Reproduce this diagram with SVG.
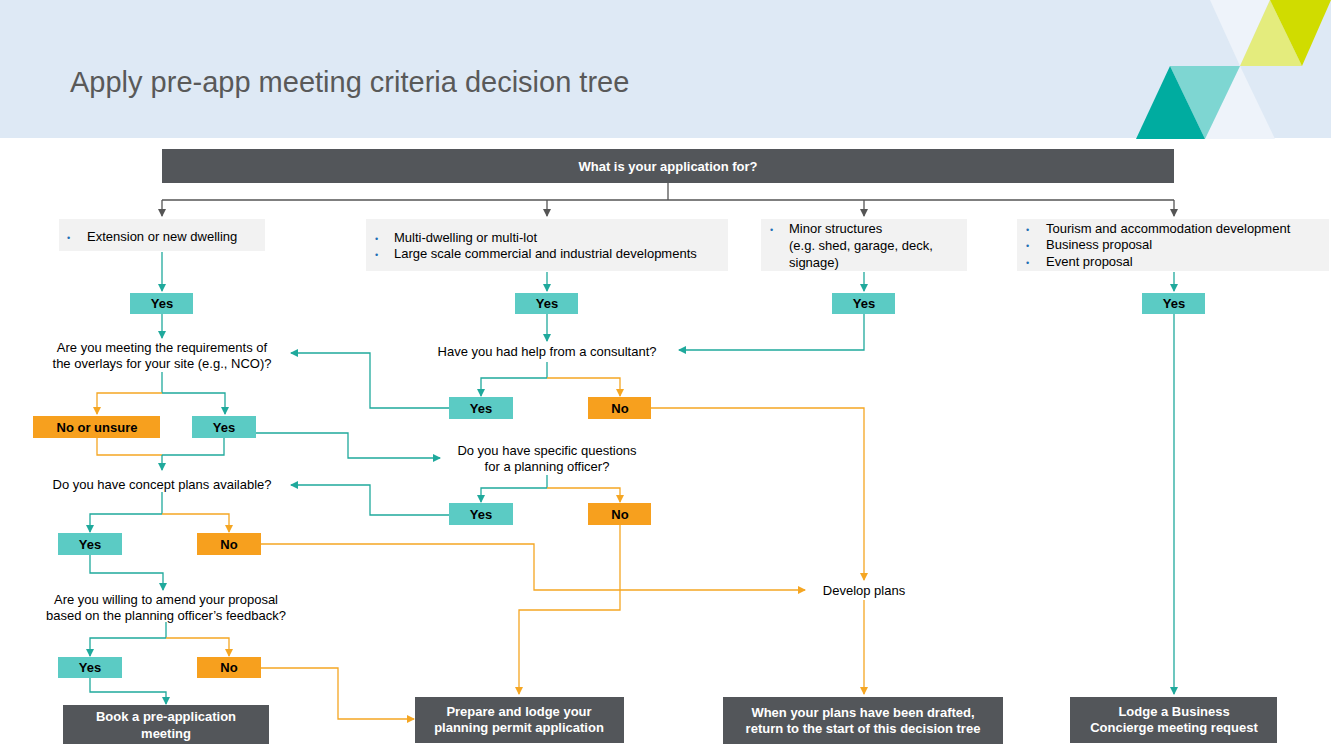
<svg xmlns="http://www.w3.org/2000/svg" width="1331" height="745" viewBox="0 0 1331 745">
<style>
text{font-family:"Liberation Sans",Arial,sans-serif;font-size:13px;fill:#000}
.b{font-weight:bold}
.w{fill:#fff;font-weight:bold}
.c{text-anchor:middle}
.dk{fill:#53565A}
.y{fill:#5BCBC4}
.o{fill:#F7A01E}
.g{fill:#F2F2F2}
.t{fill:none;stroke:#1FA99C;stroke-width:1.3}
.n{fill:none;stroke:#F5A623;stroke-width:1.3}
.k{fill:none;stroke:#555;stroke-width:1.3}
.bl{fill:#1F6FB5}
</style>
<defs>
<marker id="at" markerWidth="8" markerHeight="8" refX="7" refY="4" orient="auto" markerUnits="userSpaceOnUse"><path d="M0,0L8,4L0,8z" fill="#1FA99C"/></marker>
<marker id="ao" markerWidth="8" markerHeight="8" refX="7" refY="4" orient="auto" markerUnits="userSpaceOnUse"><path d="M0,0L8,4L0,8z" fill="#F5A623"/></marker>
<marker id="ak" markerWidth="8" markerHeight="8" refX="7" refY="4" orient="auto" markerUnits="userSpaceOnUse"><path d="M0,0L8,4L0,8z" fill="#555"/></marker>
</defs>
<rect width="1331" height="745" fill="#fff"/>
<g id="header">
<rect width="1331" height="138" fill="#DEE9F5"/>
<polygon points="1210,0 1270,0 1240,66" fill="#EEF3FA"/>
<polygon points="1270,0 1240,66 1302,66" fill="#E4EC7D"/>
<polygon points="1270,0 1331,0 1302,66" fill="#D0DC00"/>
<polygon points="1240,66 1205,139 1275,139" fill="#EEF3FA"/>
<polygon points="1170,66 1240,66 1205,139" fill="#7ED6D2"/>
<polygon points="1170,66 1136,139 1205,139" fill="#00ACA0"/>
<text x="70" y="92" style="font-size:29px;fill:#595959">Apply pre-app meeting criteria decision tree</text>
</g>
<g id="connectors">
<path class="k" d="M668,183V200M162,200H1174" />
<path class="k" marker-end="url(#ak)" d="M162,200V216"/>
<path class="k" marker-end="url(#ak)" d="M547,200V216"/>
<path class="k" marker-end="url(#ak)" d="M864,200V216"/>
<path class="k" marker-end="url(#ak)" d="M1174,200V216"/>
<path class="t" marker-end="url(#at)" d="M162,252V291"/>
<path class="t" marker-end="url(#at)" d="M547,272V291"/>
<path class="t" marker-end="url(#at)" d="M864,272V291"/>
<path class="t" marker-end="url(#at)" d="M1174,272V291"/>
<path class="t" marker-end="url(#at)" d="M162,314V338"/>
<path class="t" marker-end="url(#at)" d="M547,314V341"/>
<path class="t" marker-end="url(#at)" d="M864,314V350H679"/>
<path class="t" d="M547,362V378"/>
<path class="t" marker-end="url(#at)" d="M547,378H481V396"/>
<path class="n" marker-end="url(#ao)" d="M547,378H620V396"/>
<path class="t" marker-end="url(#at)" d="M449,408H370V353H291"/>
<path class="n" marker-end="url(#ao)" d="M651,408H864V580"/>
<path class="t" d="M162,372V393"/>
<path class="n" marker-end="url(#ao)" d="M162,393H97V414"/>
<path class="t" marker-end="url(#at)" d="M162,393H225V414"/>
<path class="n" d="M97,438V455H162"/>
<path class="t" d="M224,438V455H162"/>
<path class="t" marker-end="url(#at)" d="M162,455V470"/>
<path class="t" marker-end="url(#at)" d="M256,433H348V458H440"/>
<path class="t" d="M547,475V488"/>
<path class="t" marker-end="url(#at)" d="M547,488H481V502"/>
<path class="n" marker-end="url(#ao)" d="M547,488H620V502"/>
<path class="t" marker-end="url(#at)" d="M449,515H370V485H291"/>
<path class="t" d="M162,492V514"/>
<path class="t" marker-end="url(#at)" d="M162,514H90V532"/>
<path class="n" marker-end="url(#ao)" d="M162,514H229V532"/>
<path class="n" marker-end="url(#ao)" d="M261,544H534V590H805"/>
<path class="n" marker-end="url(#ao)" d="M620,525V610H519V694"/>
<path class="t" marker-end="url(#at)" d="M90,555V573H163V590"/>
<path class="t" d="M166,622V638"/>
<path class="t" marker-end="url(#at)" d="M166,638H90V656"/>
<path class="n" marker-end="url(#ao)" d="M166,638H229V656"/>
<path class="t" marker-end="url(#at)" d="M90,678V692H166V704"/>
<path class="n" marker-end="url(#ao)" d="M261,668H338V719H414"/>
<path class="n" marker-end="url(#ao)" d="M864,600V694"/>
<path class="t" marker-end="url(#at)" d="M1174,314V694"/>
</g>
<g id="top"><rect class="dk" x="162" y="149" width="1012" height="34"/><text class="w c" x="668" y="171">What is your application for?</text></g>
<g id="box1"><rect class="g" x="59" y="219" width="206" height="32"/><text class="bl" x="67" y="241" style="font-size:9px">•</text><text x="87" y="241">Extension or new dwelling</text></g>
<g id="box2"><rect class="g" x="366" y="219" width="362" height="52"/><text class="bl" x="375" y="242" style="font-size:9px">•</text><text x="394" y="242">Multi-dwelling or multi-lot</text><text class="bl" x="375" y="258" style="font-size:9px">•</text><text x="394" y="258">Large scale commercial and industrial developments</text></g>
<g id="box3"><rect class="g" x="761" y="219" width="206" height="52"/><text class="bl" x="770" y="233" style="font-size:9px">•</text><text x="789" y="233">Minor structures</text><text x="789" y="250">(e.g. shed, garage, deck,</text><text x="789" y="267">signage)</text></g>
<g id="box4"><rect class="g" x="1017" y="219" width="312" height="52"/><text class="bl" x="1026" y="233" style="font-size:9px">•</text><text x="1046" y="233">Tourism and accommodation development</text><text class="bl" x="1026" y="249" style="font-size:9px">•</text><text x="1046" y="249">Business proposal</text><text class="bl" x="1026" y="266" style="font-size:9px">•</text><text x="1046" y="266">Event proposal</text></g>
<g id="yes1"><rect class="y" x="130" y="293" width="63" height="21"/><text class="b c" x="162" y="308">Yes</text></g>
<g id="yes2"><rect class="y" x="515" y="293" width="63" height="21"/><text class="b c" x="547" y="308">Yes</text></g>
<g id="yes3"><rect class="y" x="832" y="293" width="63" height="21"/><text class="b c" x="864" y="308">Yes</text></g>
<g id="yes4"><rect class="y" x="1142" y="293" width="63" height="21"/><text class="b c" x="1174" y="308">Yes</text></g>
<g id="q1"><text class="c" x="162" y="352">Are you meeting the requirements of</text><text class="c" x="162" y="368">the overlays for your site (e.g., NCO)?</text></g>
<g id="q2"><text class="c" x="547" y="356">Have you had help from a consultant?</text></g>
<g id="q2yes"><rect class="y" x="449" y="397" width="64" height="22"/><text class="b c" x="481" y="413">Yes</text></g>
<g id="q2no"><rect class="o" x="588" y="397" width="63" height="22"/><text class="b c" x="620" y="413">No</text></g>
<g id="q1no"><rect class="o" x="33" y="416" width="127" height="22"/><text class="b c" x="97" y="432">No or unsure</text></g>
<g id="q1yes"><rect class="y" x="192" y="416" width="64" height="22"/><text class="b c" x="224" y="432">Yes</text></g>
<g id="q3"><text class="c" x="547" y="455">Do you have specific questions</text><text class="c" x="547" y="471">for a planning officer?</text></g>
<g id="q3yes"><rect class="y" x="449" y="503" width="64" height="22"/><text class="b c" x="481" y="519">Yes</text></g>
<g id="q3no"><rect class="o" x="588" y="503" width="63" height="22"/><text class="b c" x="620" y="519">No</text></g>
<g id="q4"><text class="c" x="162" y="489">Do you have concept plans available?</text></g>
<g id="q4yes"><rect class="y" x="58" y="533" width="64" height="22"/><text class="b c" x="90" y="549">Yes</text></g>
<g id="q4no"><rect class="o" x="197" y="533" width="64" height="22"/><text class="b c" x="229" y="549">No</text></g>
<g id="dev"><text class="c" x="864" y="595">Develop plans</text></g>
<g id="q5"><text class="c" x="166" y="604">Are you willing to amend your proposal</text><text class="c" x="166" y="620">based on the planning officer’s feedback?</text></g>
<g id="q5yes"><rect class="y" x="58" y="657" width="64" height="21"/><text class="b c" x="90" y="672">Yes</text></g>
<g id="q5no"><rect class="o" x="197" y="657" width="64" height="21"/><text class="b c" x="229" y="672">No</text></g>
<g id="book"><rect class="dk" x="63" y="705" width="206" height="39"/><text class="w c" x="166" y="721">Book a pre-application</text><text class="w c" x="166" y="738">meeting</text></g>
<g id="prepare"><rect class="dk" x="415" y="697" width="209" height="46"/><text class="w c" x="519" y="716">Prepare and lodge your</text><text class="w c" x="519" y="732">planning permit application</text></g>
<g id="when"><rect class="dk" x="723" y="697" width="280" height="47"/><text class="w c" x="863" y="717">When your plans have been drafted,</text><text class="w c" x="863" y="733">return to the start of this decision tree</text></g>
<g id="lodge"><rect class="dk" x="1070" y="697" width="207" height="46"/><text class="w c" x="1174" y="716">Lodge a Business</text><text class="w c" x="1174" y="732">Concierge meeting request</text></g>
</svg>
